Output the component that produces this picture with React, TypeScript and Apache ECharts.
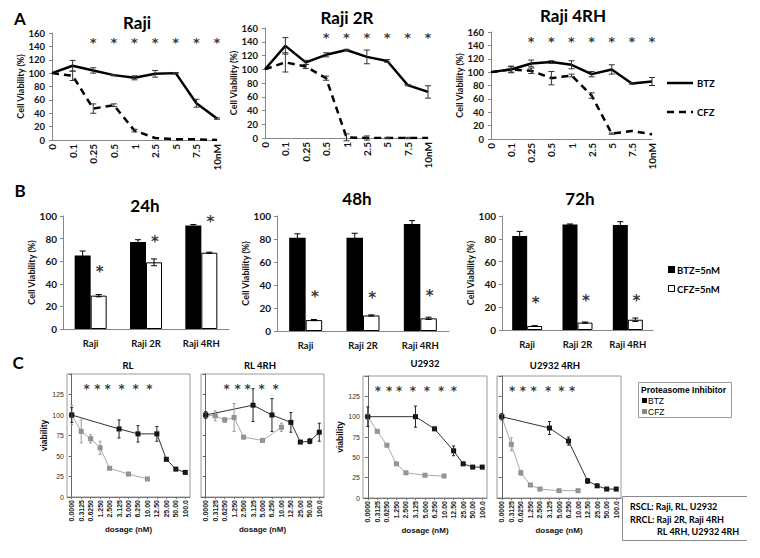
import React, { useEffect, useRef } from "react";
import * as echarts from "echarts";

// ---------- Panel A data ----------
const aDoses = ["0", "0.1", "0.25", "0.5", "1", "2.5", "5", "7.5", "10nM"];
const rajiBTZ = [100, 111, 104, 97, 93, 99, 100, 55, 32];
const rajiBTZErr = [0, 8, 4, 1, 3, 5, 1, 6, 1];
const rajiCFZ = [100, 96, 47, 52, 14, 3, 1, 1, 0];
const rajiCFZErr = [0, 7, 7, 2, 2, 0, 0, 0, 0];
const rajiStars = ["0.25", "0.5", "1", "2.5", "5", "7.5", "10nM"];

const raji2BTZ = [100, 134, 110, 121, 128, 118, 112, 77, 67];
const raji2BTZErr = [0, 12, 3, 3, 1, 10, 2, 1, 9];
const raji2CFZ = [100, 110, 104, 87, 1, 0, 0, 0, 0];
const raji2CFZErr = [0, 14, 3, 3, 5, 3, 1, 1, 0];
const raji2Stars = ["0.5", "1", "2.5", "5", "7.5", "10nM"];

const raji4BTZ = [100, 104, 113, 115, 111, 97, 104, 83, 86];
const raji4BTZErr = [0, 5, 5, 2, 6, 4, 7, 1, 6];
const raji4CFZ = [100, 104, 102, 91, 95, 65, 8, 12, 7];
const raji4CFZErr = [0, 4, 4, 10, 2, 4, 1, 0, 0];
const raji4Stars = ["0.25", "0.5", "1", "2.5", "5", "7.5", "10nM"];

// ---------- Panel B data ----------
const bCells = ["Raji", "Raji 2R", "Raji 4RH"];
const h24BTZ = [65, 77, 91.5];
const h24BTZErr = [4, 2, 1];
const h24CFZ = [29.5, 59, 67.5];
const h24CFZErr = [1, 3, 0.5];
const h24Stars = [53, 80, 97];
const h48BTZ = [81, 81, 93];
const h48BTZErr = [3.5, 4, 3];
const h48CFZ = [9.5, 13.5, 11];
const h48CFZErr = [0.5, 0.5, 1];
const h48Stars = [32, 31, 33];
const h72BTZ = [82.5, 92.5, 92];
const h72BTZErr = [4, 0.5, 3];
const h72CFZ = [3.5, 6.5, 9];
const h72CFZErr = [0.3, 0.5, 1.5];
const h72Stars = [26, 28.5, 28.5];

// ---------- Panel C data ----------
const cDoses = ["0.0000", "0.3125", "0.6250", "1.250", "2.500", "3.125", "5.000", "6.250", "10.00", "12.50", "25.00", "50.00", "100.0"];
const _ = null;
const rlBTZ = [100, _, _, _, _, 83, _, 77, _, 77, 46, 34, 30];
const rlBTZErr = [9, _, _, _, _, 11, _, 10, _, 9, 2, 1, 1];
const rlCFZ = [100, 80, 71, 60, 35, _, 28, _, 22, _, _, _, _];
const rlCFZErr = [12, 14, 5, 8, 1, _, 1, _, 1, _, _, _, _];
const rlStars = [1.58, 2.7, 3.8, 5.28, 6.76, 8.2];

const rl4BTZ = [100, _, _, _, _, 112, _, 100, _, 91, 67, 68, 79];
const rl4BTZErr = [4, _, _, _, _, 20, _, 20, _, 12, 1, 3, 11];
const rl4CFZ = [100, 99, 94, 97, 73, _, 69, _, 85, _, _, _, _];
const rl4CFZErr = [4, 6, 3, 17, 1, _, 1, _, 5, _, _, _, _];
const rl4Stars = [2.22, 3.38, 4.44, 5.92, 7.4];

const uBTZ = [100, _, _, _, _, 100, _, 85, _, 58, 42, 38, 38];
const uBTZErr = [12, _, _, _, _, 13, _, 2, _, 6, 2, 1, 2];
const uCFZ = [100, 82, 65, 42, 31, _, 28, _, 27, _, _, _, _];
const uCFZErr = [3, 2, 2, 1, 1, _, 1, _, 1, _, _, _, _];
const uStars = [1.07, 2.23, 3.28, 4.74, 6.21, 7.68, 9.04];

const u4BTZ = [100, _, _, _, _, 86, _, 70, _, 21, 15, 11, 11];
const u4BTZErr = [4, _, _, _, _, 8, _, 5, _, 3, 1, 1, 1];
const u4CFZ = [100, 66, 31, 16, 11, _, 9, _, 9, _, _, _, _];
const u4CFZErr = [3, 8, 3, 1, 1, _, 1, _, 1, _, _, _, _];
const u4Stars = [1.1, 2.22, 3.34, 4.85, 6.26, 7.37];

const EX = "Lato, 'Open Sans', sans-serif";
const GP = "'Liberation Sans', Arial, sans-serif";
const ST = "'DejaVu Sans', sans-serif";

function errSeries(g: number, vals: any[], errs: any[], color: string, offset: number, cap: number, z = 5) {
  const data = vals
    .map((v, i) => (v == null || !errs[i] ? null : [i, v - errs[i], v + errs[i]]))
    .filter((d) => d !== null);
  return {
    type: "custom",
    xAxisIndex: g,
    yAxisIndex: g,
    data,
    z,
    silent: true,
    encode: { x: 0, y: [1, 2] },
    renderItem: (params: any, api: any) => {
      const lo = api.coord([api.value(0), api.value(1)]);
      const hi = api.coord([api.value(0), api.value(2)]);
      const x = lo[0] + offset;
      const st = { stroke: color, lineWidth: 1 };
      return {
        type: "group",
        children: [
          { type: "line", shape: { x1: x, y1: lo[1], x2: x, y2: hi[1] }, style: st },
          { type: "line", shape: { x1: x - cap, y1: hi[1], x2: x + cap, y2: hi[1] }, style: st },
          { type: "line", shape: { x1: x - cap, y1: lo[1], x2: x + cap, y2: lo[1] }, style: st },
        ],
      };
    },
  };
}

function starSeries(xi: number, yi: number, data: any[], fontSize: number, dx = 0) {
  return {
    type: "scatter",
    xAxisIndex: xi,
    yAxisIndex: yi,
    data,
    symbolSize: 1,
    itemStyle: { color: "rgba(0,0,0,0)" },
    silent: true,
    z: 6,
    label: {
      show: true,
      position: "inside",
      formatter: "*",
      fontSize,
      fontWeight: "bold",
      color: "#000",
      fontFamily: ST,
      offset: [dx, Math.round(fontSize * 0.22)],
    },
  };
}

const gridsA = [
  { left: 52, top: 33, width: 165, height: 107 },
  { left: 265, top: 28, width: 163, height: 110 },
  { left: 491, top: 32, width: 161, height: 107 },
];
const gridsB = [
  { left: 63, top: 216, width: 166, height: 113 },
  { left: 277, top: 216, width: 172, height: 115 },
  { left: 502, top: 216, width: 151, height: 114 },
];
const gridsC = [
  { left: 67, top: 374, width: 123, height: 123 },
  { left: 201, top: 374, width: 123, height: 123 },
  { left: 363, top: 376, width: 124, height: 122 },
  { left: 497, top: 376, width: 124, height: 122 },
];

function buildOption() {
  const grid: any[] = [];
  const xAxis: any[] = [];
  const yAxis: any[] = [];
  const series: any[] = [];

  // ----- Panel A -----
  const aSets = [
    { b: rajiBTZ, be: rajiBTZErr, c: rajiCFZ, ce: rajiCFZErr, s: rajiStars, gap: 25 },
    { b: raji2BTZ, be: raji2BTZErr, c: raji2CFZ, ce: raji2CFZErr, s: raji2Stars, gap: 24 },
    { b: raji4BTZ, be: raji4BTZErr, c: raji4CFZ, ce: raji4CFZErr, s: raji4Stars, gap: 27 },
  ];
  aSets.forEach((set, k) => {
    const g = grid.length;
    grid.push({ ...gridsA[k], containLabel: false });
    xAxis.push({
      type: "category",
      gridIndex: g,
      data: aDoses,
      boundaryGap: false,
      axisLine: { lineStyle: { color: "#868686", width: 1 } },
      axisTick: { show: false },
      axisLabel: { rotate: 90, interval: 0, fontSize: 10, fontWeight: "bold", color: "#111", fontFamily: EX, margin: 4 },
    });
    yAxis.push({
      type: "value",
      gridIndex: g,
      min: 0,
      max: 160,
      interval: 20,
      splitLine: { show: false },
      axisLine: { show: true, lineStyle: { color: "#868686" } },
      axisTick: { show: true, length: 3, lineStyle: { color: "#868686" } },
      axisLabel: { fontSize: 9.5, fontWeight: "bold", color: "#111", fontFamily: EX, margin: 7 },
      name: "Cell Viability (%)",
      nameLocation: "middle",
      nameGap: set.gap,
      nameTextStyle: { fontSize: 9, fontWeight: "bold", color: "#111", fontFamily: EX },
    });
    series.push({
      type: "line", xAxisIndex: g, yAxisIndex: g, data: set.c, symbol: "none", z: 3,
      lineStyle: { color: "#000", width: 2.5, type: [7, 5] },
    });
    series.push({
      type: "line", xAxisIndex: g, yAxisIndex: g, data: set.b, symbol: "none", z: 4,
      lineStyle: { color: "#000", width: 2.5 },
    });
    series.push(errSeries(g, set.b, set.be, "#333", 0, 3));
    series.push(errSeries(g, set.c, set.ce, "#333", 0, 3));
    series.push(starSeries(g, g, set.s.map((c) => [c, 150]), 13));
  });

  // ----- Panel B -----
  const bSets = [
    { b: h24BTZ, be: h24BTZErr, c: h24CFZ, ce: h24CFZErr, s: h24Stars, bw: 16, gap: 23 },
    { b: h48BTZ, be: h48BTZErr, c: h48CFZ, ce: h48CFZErr, s: h48Stars, bw: 16.5, gap: 26 },
    { b: h72BTZ, be: h72BTZErr, c: h72CFZ, ce: h72CFZErr, s: h72Stars, bw: 15, gap: 26 },
  ];
  bSets.forEach((set, k) => {
    const g = grid.length;
    grid.push({ ...gridsB[k], containLabel: false });
    xAxis.push({
      type: "category",
      gridIndex: g,
      data: bCells,
      axisLine: { lineStyle: { color: "#868686" } },
      axisTick: { show: false },
      axisLabel: { interval: 0, fontSize: 9.5, fontWeight: "bold", color: "#111", fontFamily: EX, margin: 9 },
    });
    yAxis.push({
      type: "value",
      gridIndex: g,
      min: 0,
      max: 100,
      interval: 20,
      splitLine: { show: false },
      axisLine: { show: true, lineStyle: { color: "#868686" } },
      axisTick: { show: true, length: 3, lineStyle: { color: "#868686" } },
      axisLabel: { fontSize: 10, fontWeight: "bold", color: "#111", fontFamily: EX, margin: 6 },
      name: "Cell Viability (%)",
      nameLocation: "middle",
      nameGap: set.gap,
      nameTextStyle: { fontSize: 9, fontWeight: "bold", color: "#111", fontFamily: EX },
    });
    series.push({
      type: "bar", xAxisIndex: g, yAxisIndex: g, data: set.b, barWidth: set.bw, barGap: "0%",
      itemStyle: { color: "#000" }, z: 2,
    });
    series.push({
      type: "bar", xAxisIndex: g, yAxisIndex: g, data: set.c, barWidth: set.bw, barGap: "0%",
      itemStyle: { color: "#fff", borderColor: "#000", borderWidth: 1 }, z: 2,
    });
    series.push(errSeries(g, set.b, set.be, "#000", -set.bw / 2, 3));
    series.push(errSeries(g, set.c, set.ce, "#000", set.bw / 2, 3));
    series.push(starSeries(g, g, set.s.map((v, i) => [bCells[i], v]), 15, set.bw / 2 + 1));
  });

  // ----- Panel C -----
  const cSets = [
    { b: rlBTZ, be: rlBTZErr, c: rlCFZ, ce: rlCFZErr, s: rlStars, labels: true },
    { b: rl4BTZ, be: rl4BTZErr, c: rl4CFZ, ce: rl4CFZErr, s: rl4Stars, labels: false },
    { b: uBTZ, be: uBTZErr, c: uCFZ, ce: uCFZErr, s: uStars, labels: true },
    { b: u4BTZ, be: u4BTZErr, c: u4CFZ, ce: u4CFZErr, s: u4Stars, labels: false },
  ];
  const cGridStart = grid.length;
  cSets.forEach((set, k) => {
    const g = grid.length;
    grid.push({ ...gridsC[k], containLabel: false, show: true, borderColor: "#9a9a9a", borderWidth: 1, backgroundColor: "transparent" });
    xAxis.push({
      type: "category",
      gridIndex: g,
      data: cDoses,
      boundaryGap: true,
      axisLine: { lineStyle: { color: "#777" } },
      axisTick: { show: true, alignWithLabel: true, length: 2, lineStyle: { color: "#777" } },
      axisLabel: { rotate: 90, interval: 0, fontSize: 7, fontWeight: "bold", color: "#222", fontFamily: GP, margin: 3 },
      name: "dosage (nM)",
      nameLocation: "middle",
      nameGap: 26,
      nameTextStyle: { fontSize: 8, fontWeight: "bold", color: "#111", fontFamily: GP },
    });
    yAxis.push({
      type: "value",
      gridIndex: g,
      min: 0,
      max: 150,
      interval: 25,
      splitLine: { show: false },
      axisLine: { show: true, lineStyle: { color: "#666" } },
      axisTick: { show: true, length: 3, lineStyle: { color: "#666" } },
      axisLabel: {
        show: set.labels,
        fontSize: 7,
        color: "#333",
        fontFamily: GP,
        margin: 3,
        formatter: (v: number) => (v === 150 ? "" : String(v)),
      },
      name: set.labels ? "viability" : "",
      nameLocation: "middle",
      nameGap: 16,
      nameTextStyle: { fontSize: 8.5, fontWeight: "bold", color: "#111", fontFamily: GP },
    });
    series.push({
      type: "line", xAxisIndex: g, yAxisIndex: g, data: set.c, connectNulls: true,
      symbol: "rect", symbolSize: 5, itemStyle: { color: "#8f8f8f" },
      lineStyle: { color: "#aaaaaa", width: 1 }, z: 3,
    });
    series.push({
      type: "line", xAxisIndex: g, yAxisIndex: g, data: set.b, connectNulls: true,
      symbol: "rect", symbolSize: 5, itemStyle: { color: "#111" },
      lineStyle: { color: "#333", width: 1 }, z: 4,
    });
    series.push(errSeries(g, set.c, set.ce, "#9a9a9a", 0, 1.5));
    series.push(errSeries(g, set.b, set.be, "#222", 0, 1.5));
  });
  // hidden value axes for star annotations in panel C
  cSets.forEach((set, k) => {
    const g = cGridStart + k;
    const xi = xAxis.length;
    xAxis.push({ type: "value", gridIndex: g, min: -0.5, max: 12.5, show: false });
    series.push(starSeries(xi, g, set.s.map((p) => [p, 135]), 12));
  });

  const T = (text: string, x: number, y: number, size: number, opts: any = {}) => ({
    type: "text",
    x,
    y,
    silent: true,
    style: {
      text,
      fontSize: size,
      fontWeight: opts.weight ?? "bold",
      fontFamily: opts.family ?? EX,
      fill: opts.fill ?? "#000",
      align: opts.align ?? "center",
      verticalAlign: "middle",
    },
  });

  const graphic: any[] = [
    // panel letters
    T("A", 20, 18, 17),
    T("B", 20, 190, 17),
    T("C", 18, 362, 17),
    // A titles
    T("Raji", 137, 22, 17),
    T("Raji 2R", 347, 17, 17),
    T("Raji 4RH", 573, 15, 17),
    // B titles
    T("24h", 145, 205, 17),
    T("48h", 357, 198, 17),
    T("72h", 580, 198, 17),
    // C titles
    T("RL", 128, 365, 9.5),
    T("RL 4RH", 260, 365, 9.5),
    T("U2932", 425, 363, 9.5),
    T("U2932 4RH", 555, 365, 9.5),
    // A legend
    { type: "line", silent: true, shape: { x1: 667, y1: 83, x2: 693, y2: 83 }, style: { stroke: "#000", lineWidth: 2.5 } },
    T("BTZ", 697, 83, 9.5, { align: "left" }),
    { type: "line", silent: true, shape: { x1: 667, y1: 112, x2: 693, y2: 112 }, style: { stroke: "#000", lineWidth: 2.5, lineDash: [7, 5] } },
    T("CFZ", 697, 112, 9.5, { align: "left" }),
    // B legend
    { type: "rect", silent: true, shape: { x: 668, y: 266, width: 7, height: 7 }, style: { fill: "#000" } },
    T("BTZ=5nM", 677, 270, 9.5, { align: "left" }),
    { type: "rect", silent: true, shape: { x: 668.5, y: 285.5, width: 6, height: 6 }, style: { fill: "#fff", stroke: "#000", lineWidth: 1 } },
    T("CFZ=5nM", 677, 289, 9.5, { align: "left" }),
    // C legend box
    { type: "rect", silent: true, shape: { x: 638.5, y: 382.5, width: 93, height: 35 }, style: { fill: "none", stroke: "#9a9a9a", lineWidth: 1 } },
    T("Proteasome Inhibitor", 641, 390, 8.5, { align: "left", family: GP }),
    { type: "rect", silent: true, shape: { x: 642, y: 398, width: 5, height: 5 }, style: { fill: "#000" } },
    T("BTZ", 648, 401, 8.5, { align: "left", family: GP, weight: "normal" }),
    { type: "rect", silent: true, shape: { x: 642, y: 409, width: 5, height: 5 }, style: { fill: "#888" } },
    T("CFZ", 648, 412, 8.5, { align: "left", family: GP, weight: "normal" }),
    // RSCL / RRCL box
    { type: "polyline", silent: true, shape: { points: [[747, 496.5], [622.5, 496.5], [622.5, 540.5], [747, 540.5]] }, style: { fill: "none", stroke: "#888", lineWidth: 1 } },
    T("RSCL: Raji, RL, U2932", 630, 506.5, 9, { align: "left" }),
    T("RRCL: Raji 2R, Raji 4RH", 630, 519, 9, { align: "left" }),
    T("RL 4RH, U2932 4RH", 657, 531, 9, { align: "left" }),
  ];

  return { animation: false, backgroundColor: "#fff", grid, xAxis, yAxis, series, graphic };
}

export default function App() {
  const ref = useRef<HTMLDivElement>(null);
  useEffect(() => {
    if (!ref.current) return;
    const chart = echarts.init(ref.current, undefined, { renderer: "svg" });
    chart.setOption(buildOption() as any);
    return () => chart.dispose();
  }, []);
  return <div ref={ref} style={{ position: "absolute", left: 0, top: 0, width: 760, height: 558 }} />;
}
